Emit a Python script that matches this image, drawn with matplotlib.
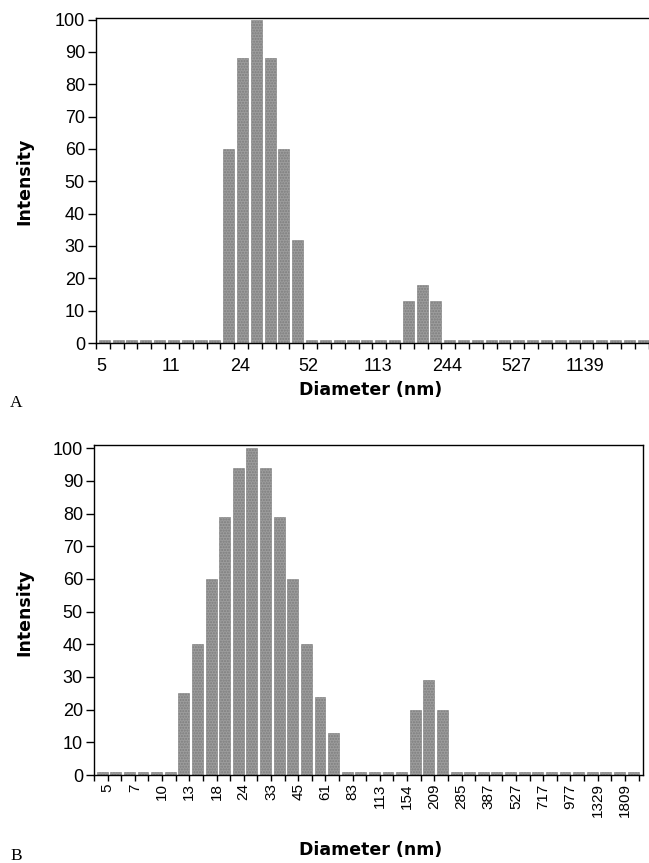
import matplotlib
matplotlib.use("Agg")
import matplotlib.pyplot as plt
import numpy as np

# bin diameters (nm) for the 40 size classes, labels as printed
labels_a = ["5", "11", "24", "52", "113", "244", "527", "1139"]
labels_b = ["5", "7", "10", "13", "18", "24", "33", "45", "61", "83",
            "113", "154", "209", "285", "387", "527", "717", "977", "1329", "1809"]

# intensity per size class (40 classes)
intensity_a = [1, 1, 1, 1, 1, 1, 1, 1, 1, 60,
               88, 100, 88, 60, 32, 1, 1, 1, 1, 1,
               1, 1, 13, 18, 13, 1, 1, 1, 1, 1,
               1, 1, 1, 1, 1, 1, 1, 1, 1, 1]
intensity_b = [1, 1, 1, 1, 1, 1, 25, 40, 60, 79,
               94, 100, 94, 79, 60, 40, 24, 13, 1, 1,
               1, 1, 1, 20, 29, 20, 1, 1, 1, 1,
               1, 1, 1, 1, 1, 1, 1, 1, 1, 1]

W, H = 649, 863
fig = plt.figure(figsize=(W / 100, H / 100), dpi=100)

tick_font = ["Liberation Sans", "DejaVu Sans"]
lab_font = ["DejaVu Sans"]
bar_kw = dict(width=0.8, color="#9c9c9c", edgecolor="#7d7d7d",
              linewidth=0.4, hatch="......")

def px_axes(l, r, t, b):
    return fig.add_axes([l / W, 1 - b / H, (r - l) / W, (b - t) / H])

def style(ax, xmax, ymax):
    n = len(intensity_a)
    ax.set_xlim(-0.5, xmax)
    ax.set_ylim(0, ymax)
    ax.set_yticks(np.arange(0, 101, 10))
    ax.tick_params(axis="y", direction="out", length=6, width=1, pad=2,
                   labelsize=13)
    for t in ax.get_yticklabels():
        t.set_family(tick_font)
    ax.set_xticks(np.arange(-1, n) + 0.4, minor=True)
    ax.tick_params(axis="x", which="minor", direction="out", length=4, width=1)
    for s in ax.spines.values():
        s.set_linewidth(1.0)

# ---------------- A ----------------
ax1 = px_axes(96, 655, 18, 343)
ax1.bar(np.arange(len(intensity_a)), intensity_a, **bar_kw)
style(ax1, 39.86, 100.5)
ax1.set_xticks(np.arange(len(labels_a)) * 5 - 0.2)
ax1.set_xticklabels(labels_a, family=tick_font)
ax1.tick_params(axis="x", which="major", length=0, pad=11, labelsize=13)

fig.text(371 / W, 1 - 390 / H, "Diameter (nm)", ha="center", va="center",
         fontsize=12.5, fontweight="bold", family=lab_font)
fig.text(24 / W, 1 - 181 / H, "Intensity", ha="center", va="center",
         rotation=90, fontsize=12.5, fontweight="bold", family=lab_font)
fig.text(10 / W, 1 - 403 / H, "A", ha="left", va="center", fontsize=12.5,
         family=["Liberation Serif", "DejaVu Serif"])

# ---------------- B ----------------
ax2 = px_axes(94, 643, 445, 775)
ax2.bar(np.arange(len(intensity_b)), intensity_b, **bar_kw)
style(ax2, 39.73, 101)
ax2.set_xticks(np.arange(len(labels_b)) * 2 + 0.4)
ax2.set_xticklabels(labels_b, rotation=90, family=tick_font)
ax2.tick_params(axis="x", which="major", direction="out", length=4, width=1,
                pad=2, labelsize=11)

fig.text(371 / W, 1 - 850 / H, "Diameter (nm)", ha="center", va="center",
         fontsize=12.5, fontweight="bold", family=lab_font)
fig.text(24 / W, 1 - 612 / H, "Intensity", ha="center", va="center",
         rotation=90, fontsize=12.5, fontweight="bold", family=lab_font)
fig.text(10 / W, 1 - 856 / H, "B", ha="left", va="center", fontsize=12.5,
         family=["Liberation Serif", "DejaVu Serif"])

fig.savefig("out.png", dpi=100)
